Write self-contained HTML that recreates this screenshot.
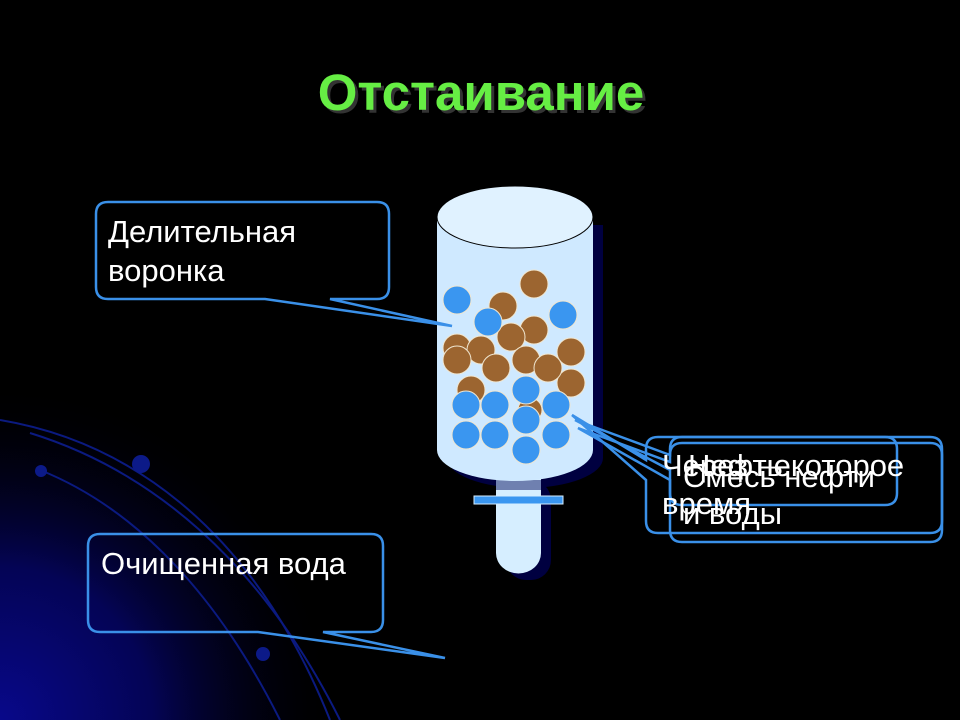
<!DOCTYPE html>
<html><head><meta charset="utf-8"><style>
html,body{margin:0;padding:0;background:#000;}
svg{display:block;}
text{font-family:"Liberation Sans",sans-serif;}
</style></head><body>
<svg width="960" height="720" viewBox="0 0 960 720">
<defs>
<radialGradient id="bg" cx="0" cy="720" r="340" gradientUnits="userSpaceOnUse">
<stop offset="0" stop-color="#08088a"/><stop offset="0.45" stop-color="#040455"/><stop offset="1" stop-color="#000" stop-opacity="0"/>
</radialGradient>
</defs>
<rect width="960" height="720" fill="#000"/>
<rect width="960" height="720" fill="url(#bg)"/>
<g fill="none" stroke="#0b1a80" stroke-width="2">
<path d="M30 433 C150 470 260 560 340 720"/>
<path d="M40 470 C140 510 220 600 280 720"/>
<path d="M0 420 C120 440 250 520 330 720"/>
</g>
<circle cx="141" cy="464" r="9" fill="#0c1a88"/>
<circle cx="41" cy="471" r="6" fill="#0c1a88"/>
<circle cx="263" cy="654" r="7" fill="#0c1a88"/>

<text x="481" y="110" text-anchor="middle" font-size="51" font-weight="bold" fill="#333" transform="translate(3,3)">Отстаивание</text>
<text x="481" y="110" text-anchor="middle" font-size="51" font-weight="bold" fill="#66ee44">Отстаивание</text>

<path d="M447 225 L603 225 L603 458 A78 30 0 0 1 447 458Z" fill="#000040"/>
<rect x="506" y="480" width="45" height="100" rx="20" fill="#000040"/>
<path d="M496 470 L541 470 L541 553 A22 20 0 0 1 496 553Z" fill="#d6eeff"/>
<rect x="496" y="480" width="45" height="10" fill="#6f80b0"/>
<rect x="474" y="496" width="89" height="8" fill="#3a96f0" stroke="#d6eeff" stroke-width="1"/>
<path d="M437 217 L593 217 L593 450 A78 31 0 0 1 437 450Z" fill="#cfe9ff"/>
<ellipse cx="515" cy="217" rx="78" ry="31" fill="#e0f2ff" stroke="#000" stroke-width="1"/>
<g stroke="#f0e6d0" stroke-width="1">
<g fill="#9c6530">
<circle cx="534" cy="284" r="14"/><circle cx="503" cy="306" r="14"/><circle cx="534" cy="330" r="14"/>
<circle cx="471" cy="390" r="14"/><circle cx="571" cy="383" r="14"/>
<circle cx="457" cy="348" r="14"/><circle cx="481" cy="350" r="14"/><circle cx="511" cy="337" r="14"/>
<circle cx="571" cy="352" r="14"/><circle cx="526" cy="360" r="14"/><circle cx="457" cy="360" r="14"/>
<circle cx="496" cy="368" r="14"/><circle cx="548" cy="368" r="14"/><circle cx="530" cy="410" r="12"/>
</g>
<g fill="#3a96f0">
<circle cx="457" cy="300" r="14"/><circle cx="563" cy="315" r="14"/><circle cx="488" cy="322" r="14"/>
<circle cx="526" cy="390" r="14"/><circle cx="466" cy="405" r="14"/><circle cx="495" cy="405" r="14"/>
<circle cx="556" cy="405" r="14"/><circle cx="526" cy="420" r="14"/>
<circle cx="466" cy="435" r="14"/><circle cx="495" cy="435" r="14"/><circle cx="556" cy="435" r="14"/>
<circle cx="526" cy="450" r="14"/>
</g>
</g>

<g fill="none" stroke="#3a90e8" stroke-width="2.5">
<path d="M108 202 H377 Q389 202 389 214 V287 Q389 299 377 299 H330 L452 326 L265 299 H108 Q96 299 96 287 V214 Q96 202 108 202Z"/>
<path d="M100 534 H371 Q383 534 383 546 V620 Q383 632 371 632 H323 L445 658 L258 632 H100 Q88 632 88 620 V546 Q88 534 100 534Z"/>
<path d="M658 437 H930 Q942 437 942 449 V521 Q942 533 930 533 H658 Q646 533 646 521 V480 L572 415 L646 460 V449 Q646 437 658 437Z"/>
<path d="M682 437 H885 Q897 437 897 449 V493 Q897 505 885 505 H682 Q670 505 670 493 V470 L575 420 L670 455 V449 Q670 437 682 437Z"/>
<path d="M682 443 H930 Q942 443 942 455 V530 Q942 542 930 542 H682 Q670 542 670 530 V480 L578 428 L670 462 V455 Q670 443 682 443Z"/>
</g>

<g fill="#fff" font-size="31">
<text x="108" y="242">Делительная</text>
<text x="108" y="281">воронка</text>
<text x="101" y="574">Очищенная вода</text>
<text x="662" y="476">Через некоторое</text>
<text x="662" y="514">время</text>
<text x="688" y="476">Нефть</text>
<text x="683" y="487">Смесь нефти</text>
<text x="683" y="524">и воды</text>
</g>
</svg>
</body></html>
